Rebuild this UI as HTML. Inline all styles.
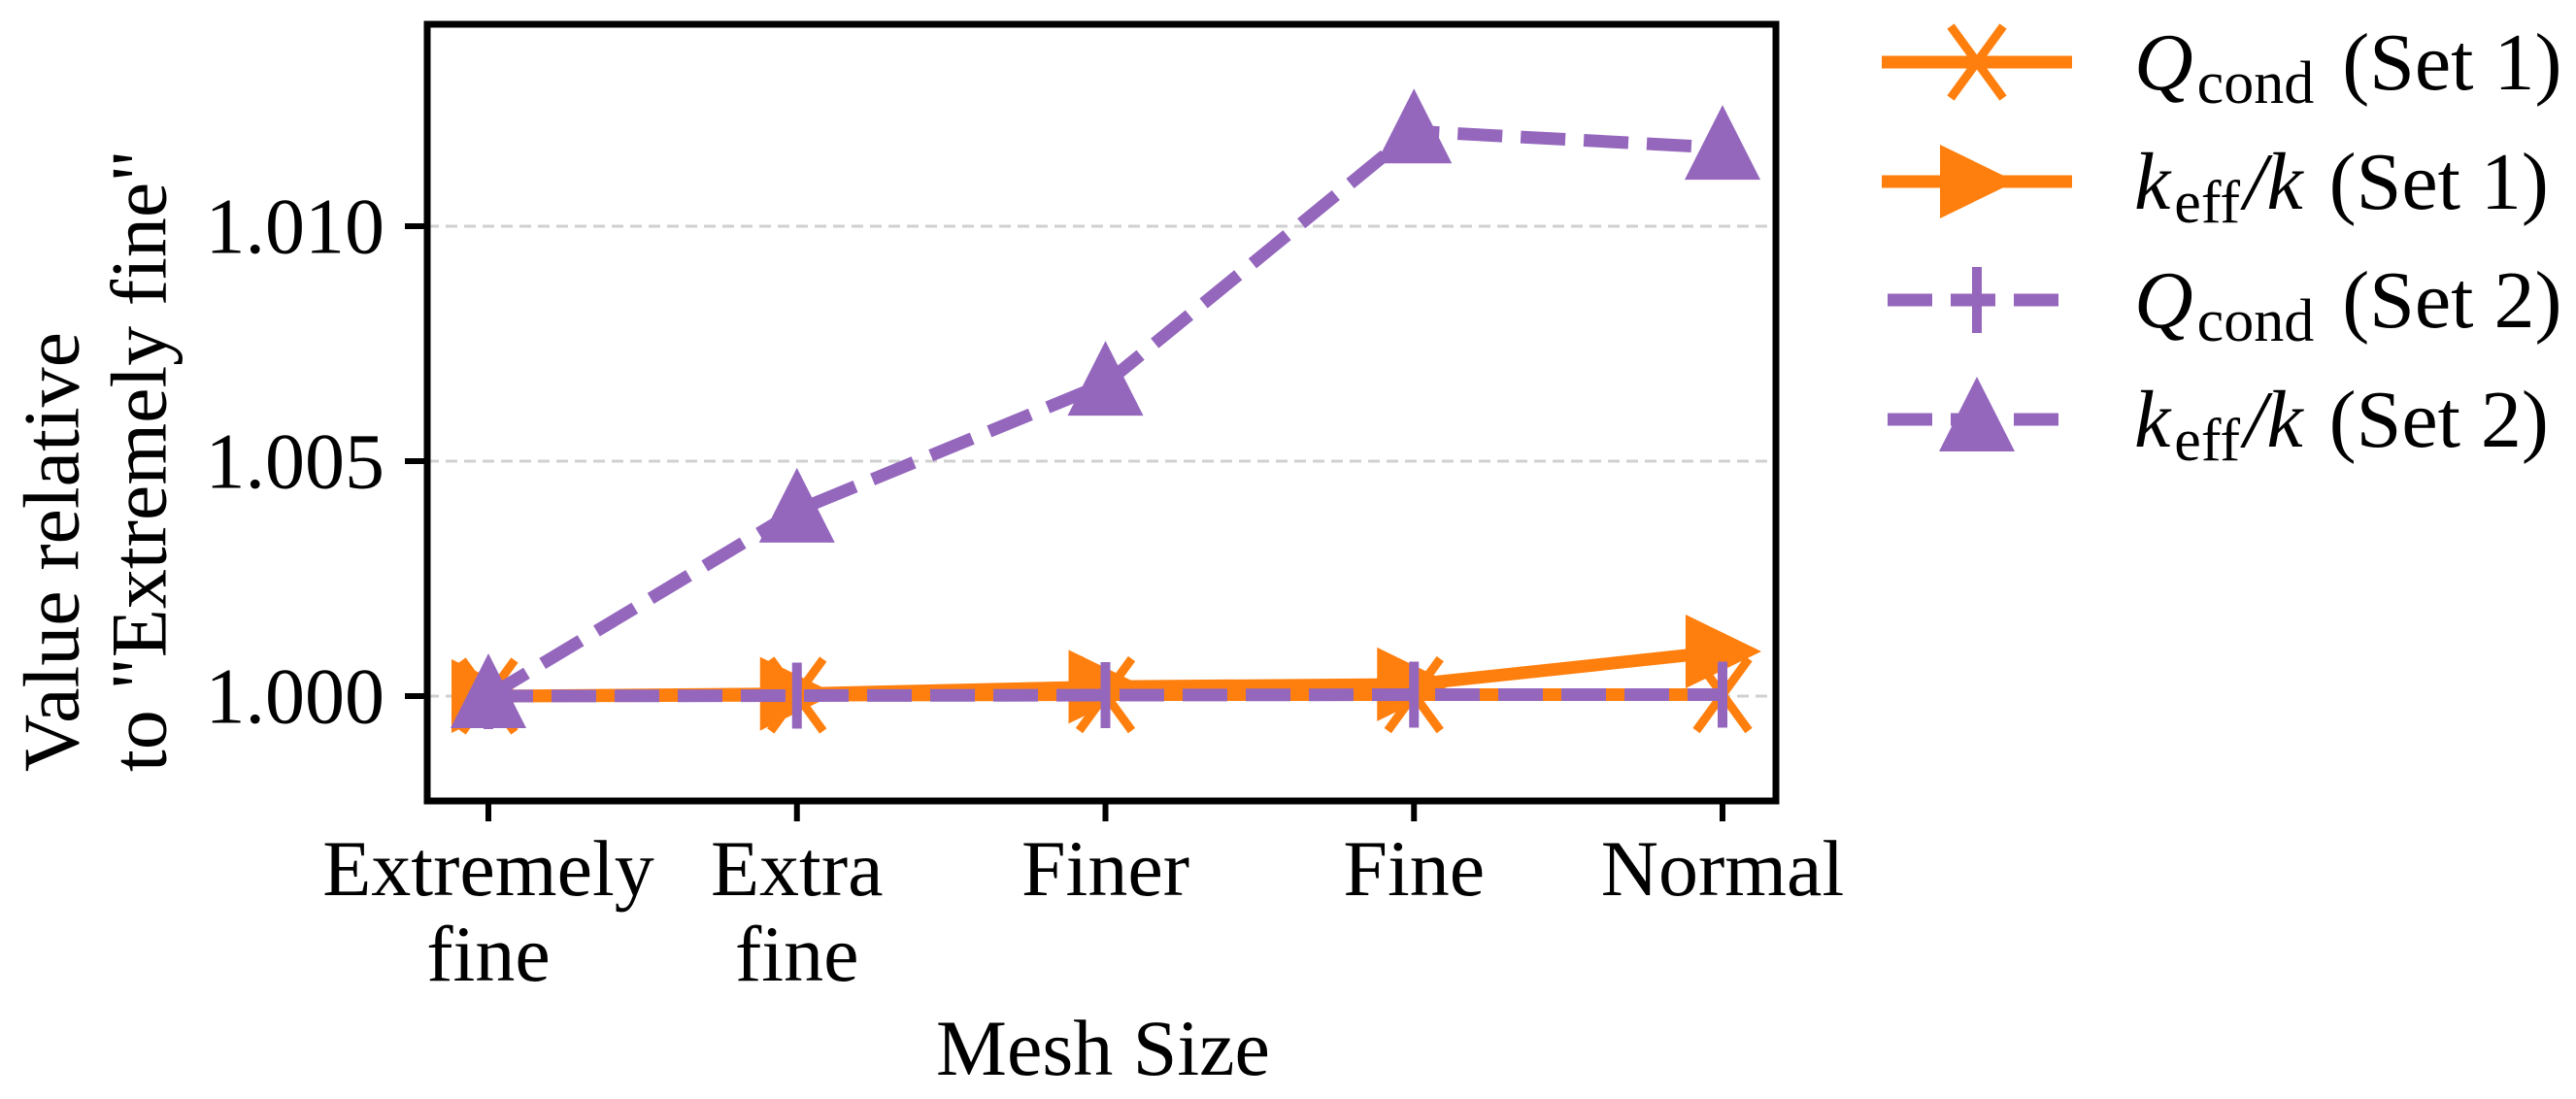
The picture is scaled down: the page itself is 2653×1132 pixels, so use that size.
<!DOCTYPE html>
<html><head><meta charset="utf-8"><style>
html,body{margin:0;padding:0;background:#fff;}
svg{display:block;font-family:"Liberation Serif",serif;}
</style></head><body>
<svg id="chart" width="2653" height="1132" viewBox="0 0 2653 1132" xmlns="http://www.w3.org/2000/svg">
<g id="grid"></g>
<g id="series"></g>
<rect x="440" y="25" width="1389" height="800" fill="none" stroke="#000" stroke-width="7"/>
<g id="axes"></g>
<text x="53" y="795" font-size="82" text-anchor="start" transform="rotate(-90 53 795)" dominant-baseline="central">Value relative</text>
<text x="143" y="795" font-size="82" text-anchor="start" transform="rotate(-90 143 795)" dominant-baseline="central">to "Extremely fine"</text>
<text x="1136" y="1107" font-size="82" text-anchor="middle">Mesh Size</text>
<g id="legend"></g>
</svg>
<script>
const categories = ["Extremely|fine", "Extra|fine", "Finer", "Fine", "Normal"];
const qSet1 = [1.0000, 1.00002, 1.00003, 1.00003, 1.00003];
const kSet1 = [1.0000, 1.00005, 1.0002, 1.00025, 1.00095];
const qSet2 = [1.0000, 1.00001, 1.00002, 1.00003, 1.00003];
const kSet2 = [1.0000, 1.00395, 1.00665, 1.01202, 1.01167];
const yTicks = [1.000, 1.005, 1.010];
const yTickLabels = ["1.000", "1.005", "1.010"];

const NS = "http://www.w3.org/2000/svg";
const ORANGE = "#ff7f0e", PURPLE = "#9467bd";
function xScale(i){ return 503 + i * 317.75; }
function yScale(v){ return 717 - (v - 1.0) / 0.005 * 242; }
function mk(tag, attrs, parent){
  const e = document.createElementNS(NS, tag);
  for (const k in attrs) e.setAttribute(k, attrs[k]);
  parent.appendChild(e); return e;
}
const grid = document.getElementById('grid');
const axes = document.getElementById('axes');
const series = document.getElementById('series');
const legend = document.getElementById('legend');

yTicks.forEach((t, i) => {
  const y = yScale(t);
  const g = mk('line', {x1: 440, x2: 1829, y1: y, y2: y, stroke: '#d0d0d0', 'stroke-width': 3, 'stroke-dasharray': '12 7'}, grid);
  
  
  const tk = mk('line', {x1: 417, x2: 440, y1: y, y2: y, stroke: '#000', 'stroke-width': 6}, axes);
  
  
  const lb = mk('text', {x: 396, y: y, 'font-size': 82, 'text-anchor': 'end', 'dominant-baseline': 'central'}, axes);
  lb.textContent = yTickLabels[i];
  
  
});
categories.forEach((c, i) => {
  const x = xScale(i);
  const tk = mk('line', {x1: x, x2: x, y1: 825, y2: 846, stroke: '#000', 'stroke-width': 6}, axes);
  
  
  c.split('|').forEach((part, j) => {
    const lb = mk('text', {x: x, y: 922 + j * 88, 'font-size': 82, 'text-anchor': 'middle'}, axes);
    lb.textContent = part;
    
    
  });
});

function marker(type, x, y, color, parent){
  let e;
  if (type === 'x') {
    e = mk('path', {d: `M${x-27},${y-37}L${x+27},${y+37}M${x+27},${y-37}L${x-27},${y+37}`, stroke: color, 'stroke-width': 9, fill: 'none'}, parent);
  } else if (type === 'right') {
    e = mk('path', {d: `M${x-38},${y-38}L${x+40},${y}L${x-38},${y+38}Z`, fill: color}, parent);
  } else if (type === 'plus') {
    e = mk('path', {d: `M${x},${y-34}L${x},${y+34}`, stroke: color, 'stroke-width': 10, fill: 'none'}, parent);
  } else {
    e = mk('path', {d: `M${x},${y-44}L${x+39},${y+33}L${x-39},${y+33}Z`, fill: color}, parent);
  }
  return e;
}
const defs = [
  {vals: qSet1, color: ORANGE, dash: null, m: 'x', name: 'q-cond-set1'},
  {vals: kSet1, color: ORANGE, dash: null, m: 'right', name: 'keff-set1'},
  {vals: qSet2, color: PURPLE, dash: '46 19', m: 'plus', name: 'q-cond-set2'},
  {vals: kSet2, color: PURPLE, dash: '46 19', m: 'tri', name: 'keff-set2'}
];
defs.forEach(d => {
  const g = mk('g', {}, series);
  
  
  const pts = d.vals.map((v, i) => xScale(i) + ',' + yScale(v)).join(' ');
  const attrs = {points: pts, fill: 'none', stroke: d.color, 'stroke-width': 13};
  if (d.dash) attrs['stroke-dasharray'] = d.dash;
  const pl = mk('polyline', attrs, g);
  
  
  d.vals.forEach((v, i) => {
    const m = marker(d.m, xScale(i), yScale(v), d.color, g);
    
    
  });
});

const legendLabels = [
  ['Q', 'cond', ' (Set 1)'], ['k', 'eff', '/k (Set 1)'],
  ['Q', 'cond', ' (Set 2)'], ['k', 'eff', '/k (Set 2)']
];
const rowY = [64, 187, 309, 432];
defs.forEach((d, i) => {
  const y = rowY[i];
  const g = mk('g', {}, legend);
  
  
  const attrs = {x1: 1938, x2: 2134, y1: y, y2: y, stroke: d.color, 'stroke-width': 13};
  if (d.dash) { attrs.x1 = 1944; attrs.x2 = 2120; attrs['stroke-dasharray'] = '46 19'; }
  const ln = mk('line', attrs, g);
  
  
  const m = marker(d.m, 2036, y, d.color, g);
  
  
  const t = mk('text', {x: 2198, y: y + 28, 'font-size': 84}, g);
  
  
  const L = legendLabels[i];
  const a = mk('tspan', {'font-style': 'italic'}, t); a.textContent = L[0];
  const b = mk('tspan', {'font-size': 62, dy: 14, dx: 4}, t); b.textContent = L[1];
  if (L[2].startsWith('/k')) {
    const c = mk('tspan', {dy: -14, dx: 4, 'font-style': 'italic'}, t); c.textContent = '/k';
    const e = mk('tspan', {dx: 6}, t); e.textContent = L[2].slice(2);
  } else {
    const c = mk('tspan', {dy: -14, dx: 8}, t); c.textContent = L[2];
  }
});
</script>
</body></html>
